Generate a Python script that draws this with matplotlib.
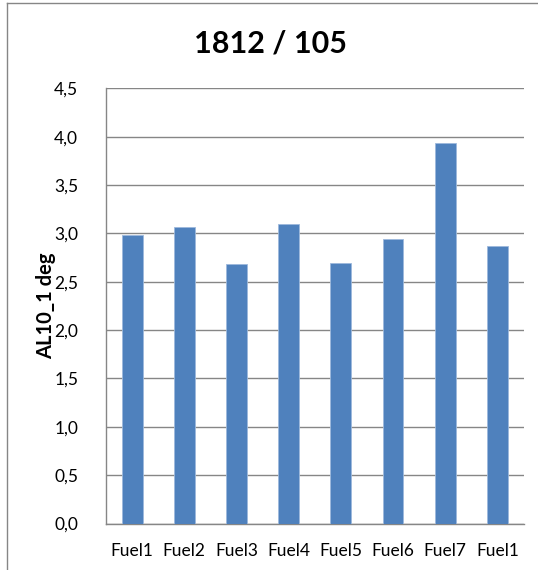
import matplotlib
matplotlib.use("Agg")
import matplotlib.pyplot as plt
from matplotlib.lines import Line2D
from matplotlib.ticker import FuncFormatter, MultipleLocator

categories = ["Fuel1", "Fuel2", "Fuel3", "Fuel4", "Fuel5", "Fuel6", "Fuel7", "Fuel1"]
values = [2.98, 3.07, 2.68, 3.10, 2.69, 2.94, 3.93, 2.87]
title = "1812 / 105"
ylabel = "AL10_1 deg"

plt.rcParams['font.family'] = ['Lato', 'DejaVu Sans']

W, H = 538, 570
fig = plt.figure(figsize=(W / 100, H / 100), dpi=100)

# outer chart border (top and left visible)
fig.lines.append(Line2D([6.5 / W, 1.0], [1 - 2.5 / H, 1 - 2.5 / H], transform=fig.transFigure,
                        color="#868686", linewidth=1.0))
fig.lines.append(Line2D([6.5 / W, 6.5 / W], [0.0, 1 - 2.5 / H], transform=fig.transFigure,
                        color="#868686", linewidth=1.0))

ax = fig.add_axes([106 / W, (H - 523.5) / H, (523.5 - 106) / W, (523.5 - 88.3) / H])

x = list(range(len(categories)))
ax.bar(x, values, width=0.4, color="#4F81BD", edgecolor="#9DB9DC", linewidth=0.6, zorder=3)

ax.set_xlim(-0.5, len(categories) - 0.5)
ax.set_ylim(0, 4.5)
ax.yaxis.set_major_locator(MultipleLocator(0.5))
ax.yaxis.set_major_formatter(FuncFormatter(lambda v, p: f"{v:.1f}".replace(".", ",")))
ax.set_xticks(x)
ax.set_xticklabels(categories)

ax.grid(axis="y", color="#868686", linewidth=1.0, zorder=0)
for s in ["top", "right"]:
    ax.spines[s].set_visible(False)
for s in ["left", "bottom"]:
    ax.spines[s].set_color("#868686")
    ax.spines[s].set_linewidth(1.0)

ax.tick_params(axis="y", length=0, pad=20, labelsize=12.5, colors="black")
ax.tick_params(axis="x", length=0, pad=14, labelsize=12.5, colors="black")

ax.set_ylabel(ylabel, fontsize=14.5, fontweight="bold")
ax.yaxis.set_label_coords(-(106 - 46) / (523.5 - 106), 0.5)
ax.yaxis.label.set_verticalalignment("center")

fig.text(270 / W, 1 - 43 / H, title, ha="center", va="center", fontsize=22, fontweight="bold")

fig.savefig("out.png", dpi=100)
